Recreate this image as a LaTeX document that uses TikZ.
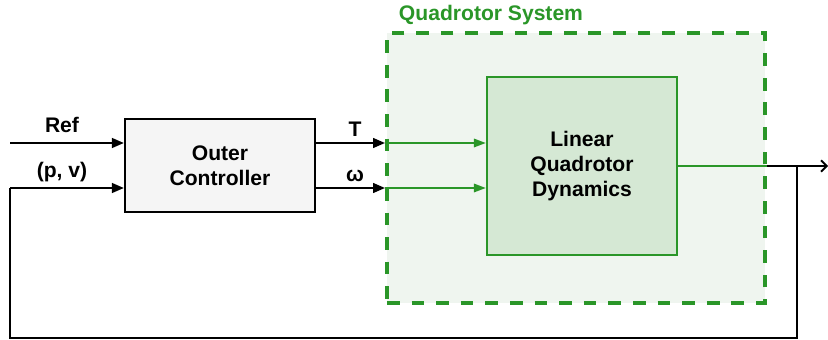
\documentclass[tikz,border=0pt]{standalone}
\usepackage{fontspec}
\setmainfont{Liberation Sans}
\usepackage{xcolor}
\usetikzlibrary{arrows.meta, positioning, calc}
\definecolor{sysgreen}{HTML}{2A9628}
\definecolor{sysfill}{HTML}{EFF5EF}
\definecolor{dynfill}{HTML}{D5E8D4}
\definecolor{ctrlfill}{HTML}{F5F5F5}

\begin{document}
\begin{tikzpicture}[
    x=0.025cm, y=-0.025cm,
    block/.style={
        rectangle, draw=black, line width=1.6pt,
        font=\fontsize{15}{17.8}\selectfont\bfseries, align=center,
    },
    signal/.style={line width=1.3pt, -{Triangle[length=8.5pt, width=7pt]}},
    gsignal/.style={signal, draw=sysgreen, -{Triangle[length=8.5pt, width=6pt, sysgreen]}},
    lbl/.style={font=\fontsize{15}{17}\selectfont\bfseries},
]
\useasboundingbox (0,0) rectangle (828,340);

% ── Quadrotor system frame ────────────────────────────────────────────────
\node[rectangle, fill=sysfill, draw=sysgreen, line width=2.8pt,
      dash pattern=on 9pt off 8.5pt,
      minimum width=9.45cm, minimum height=6.75cm] (sys) at (576,168) {};
\node[lbl, text=sysgreen] (systitle) at (491,15) {Quadrotor System};

% ── Blocks ─────────────────────────────────────────────────────────────────
\node[block, fill=ctrlfill, minimum width=4.75cm, minimum height=2.325cm] (ctrl) at (220,165.5) {Outer\\Controller};
\node[block, fill=dynfill, draw=sysgreen, minimum width=4.75cm, minimum height=4.45cm] (dyn) at (582,166) {Linear\\Quadrotor\\Dynamics};

% ── Signal points ──────────────────────────────────────────────────────────
\coordinate (ref) at (10,143);
\coordinate (fb) at (10,188);
\coordinate (tsig) at (315,143);
\coordinate (wsig) at (315,188);
\coordinate (out) at (828,166);
\coordinate (tap) at (797,166);
\coordinate (bot) at (797,338);

% ── Inputs ─────────────────────────────────────────────────────────────────
\draw[signal] (ref) -- (ctrl.west |- ref);
\node[lbl] (reflbl) at (62,125) {Ref};
\draw[signal] (fb) -- (ctrl.west |- fb);
\node[lbl] (pvlbl) at (62,172) {(p, v)};

% ── Controller outputs ─────────────────────────────────────────────────────
\draw[signal] (tsig) -- (sys.west |- tsig);
\draw[gsignal] (sys.west |- tsig) -- (dyn.west |- tsig);
\node[lbl] (tlbl) at (355,129) {T};
\draw[signal] (wsig) -- (sys.west |- wsig);
\draw[gsignal] (sys.west |- wsig) -- (dyn.west |- wsig);
\node[lbl] (wlbl) at (355,176) {ω};

% ── Output and feedback ────────────────────────────────────────────────────
\draw[line width=1.3pt, sysgreen] (dyn.east) -- (sys.east |- dyn.east);
\draw[line width=1.3pt, -{Straight Barb[length=4pt]}] (sys.east |- dyn.east) -- (out);
\draw[line width=1.3pt] (tap) -- (bot) -- (bot -| fb) -- (fb);

\end{tikzpicture}
\end{document}
